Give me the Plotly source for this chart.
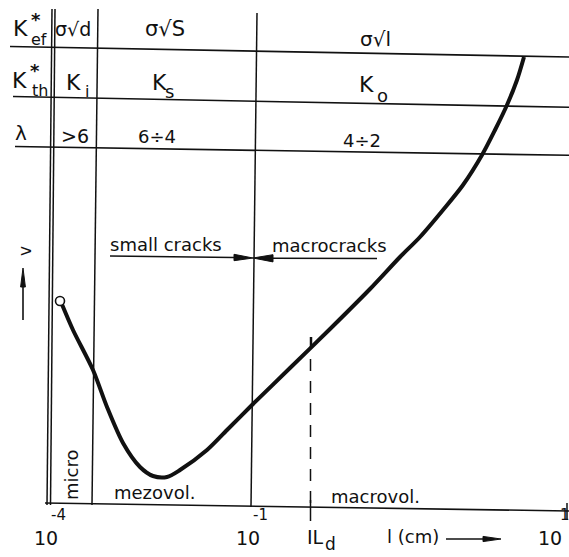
import plotly.graph_objects as go

# ---- curve (sketch units: x to the right, y downward, as drawn) ----
curve_x = [61, 73, 93, 107, 123, 140, 153, 167, 180, 207, 227, 252, 290, 330,
           370, 400, 420, 443, 463, 482, 495, 507, 517, 524]
curve_y = [302, 330, 370, 407, 443, 467, 476, 477, 470, 450, 430, 405, 368, 329,
           289, 257, 237, 210, 185, 155, 130, 105, 80, 57]

# ---- table / frame lines ----
hline_x0 = [10, 13, 15]
hline_y0 = [46.5, 96.5, 146.5]
hline_x1 = [569, 569, 569]
hline_y1 = [57, 107.3, 155.3]

vline_x0 = [52, 55, 98, 257]
vline_y0 = [9, 9, 9, 13]
vline_x1 = [47, 50.5, 92, 251]
vline_y1 = [505, 505, 505, 507]

axis_x = [45, 569]
axis_y = [503, 511]

Ld_x = 310.5
Ld_top = 337
Ld_bottom = 521
end_tick_x = 567

# ---- tick labels ----
tick_base = ["10", "10", "10"]
tick_exp = ["-4", "-1", "1"]
tick_base_x = [46, 248, 550]
tick_exp_x = [58, 260, 565]

FONT = "DejaVu Sans"
INK = "#111111"

fig = go.Figure()
fig.add_trace(go.Scatter(x=curve_x, y=curve_y, mode="lines",
                         line=dict(color=INK, width=4, shape="spline", smoothing=0.8),
                         hoverinfo="skip"))
fig.add_trace(go.Scatter(x=[curve_x[0] - 1], y=[curve_y[0] - 1], mode="markers",
                         marker=dict(symbol="circle", size=9, color="white",
                                     line=dict(color=INK, width=1.6)),
                         hoverinfo="skip"))

shapes = []
for x0, y0, x1, y1 in zip(hline_x0, hline_y0, hline_x1, hline_y1):
    shapes.append(dict(type="line", x0=x0, y0=y0, x1=x1, y1=y1,
                       line=dict(color=INK, width=1.6)))
for x0, y0, x1, y1 in zip(vline_x0, vline_y0, vline_x1, vline_y1):
    shapes.append(dict(type="line", x0=x0, y0=y0, x1=x1, y1=y1,
                       line=dict(color=INK, width=1.5)))
shapes.append(dict(type="line", x0=axis_x[0], y0=axis_y[0], x1=axis_x[1], y1=axis_y[1],
                   line=dict(color=INK, width=1.6)))
# dashed L_d line and ticks
shapes.append(dict(type="line", x0=Ld_x, y0=Ld_top, x1=Ld_x, y1=505,
                   line=dict(color=INK, width=1.5, dash="12px,10px")))
shapes.append(dict(type="line", x0=Ld_x, y0=500, x1=Ld_x, y1=Ld_bottom,
                   line=dict(color=INK, width=1.5)))
shapes.append(dict(type="line", x0=end_tick_x, y0=503, x1=end_tick_x, y1=520,
                   line=dict(color=INK, width=1.5)))
shapes.append(dict(type="line", x0=Ld_x + 1, y0=Ld_top, x1=Ld_x + 1, y1=Ld_top + 10,
                   line=dict(color=INK, width=1.5)))


def arrow(x0, y0, x1, y1, hx, hy, hw):
    # shaft from (x0,y0) to head base (hx,hy), head tip at (x1,y1)
    shapes.append(dict(type="line", x0=x0, y0=y0, x1=hx, y1=hy,
                       line=dict(color=INK, width=1.6)))
    if x0 == x1:
        path = f"M {hx-hw},{hy} L {x1},{y1} L {hx+hw},{hy} Z"
    else:
        path = f"M {hx},{hy-hw} L {x1},{y1} L {hx},{hy+hw} Z"
    shapes.append(dict(type="path", path=path, fillcolor=INK,
                       line=dict(color=INK, width=1)))


arrow(110, 256, 253, 258, 234, 257.5, 3.2)   # small cracks ->
arrow(377, 258.5, 253, 258, 273, 258.3, 3.6)  # <- macrocracks
arrow(23, 320, 23, 268, 23, 287, 2.4)        # v arrow up
arrow(446, 539, 501, 539, 483, 539, 2.6)     # l (cm) arrow

annotations = []


def txt(x, y, s, size=18, angle=0):
    annotations.append(dict(x=x, y=y, text=s, showarrow=False, textangle=angle,
                            xanchor="center", yanchor="middle",
                            font=dict(family=FONT, size=size, color=INK)))


# header rows
txt(20, 28, "K", 22); txt(36, 19, "<b>*</b>", 18); txt(39, 39, "ef", 16)
txt(19, 80, "K", 22); txt(35, 70, "<b>*</b>", 18); txt(40, 90, "th", 16)
txt(21, 133, "λ", 20)
txt(73, 29, "σ√d", 19)
txt(165, 29, "σ√S", 21)
txt(375, 39, "σ√l", 20)
txt(73, 82, "K", 22); txt(87, 91, "i", 16)
txt(159, 82, "K", 22); txt(169, 91, "s", 18)
txt(366, 84, "K", 22); txt(382, 95, "o", 18)
txt(75, 136, "&gt;6", 19)
txt(157, 136, "6÷4", 18)
txt(362, 140, "4÷2", 18)

# body labels
txt(25, 251, "v", 17, -90)
txt(166, 244, "small cracks", 18)
txt(329, 245, "macrocracks", 18)
txt(71, 475, "micro", 18, -90)
txt(154, 492, "mezovol.", 18)
txt(375, 496, "macrovol.", 18)

# axis labels
for b, e, bx, ex in zip(tick_base, tick_exp, tick_base_x, tick_exp_x):
    txt(bx, 538, b, 19)
    txt(ex, 515, e, 15)
txt(315, 537, "IL", 19); txt(330, 544, "d", 17)
txt(413, 536, "l (cm)", 18)

fig.update_layout(
    width=569, height=557,
    margin=dict(l=0, r=0, t=0, b=0),
    paper_bgcolor="white", plot_bgcolor="white",
    showlegend=False,
    xaxis=dict(range=[0, 569], visible=False, fixedrange=True),
    yaxis=dict(range=[557, 0], visible=False, fixedrange=True),
    shapes=shapes, annotations=annotations,
)

fig.write_html("out.html")
